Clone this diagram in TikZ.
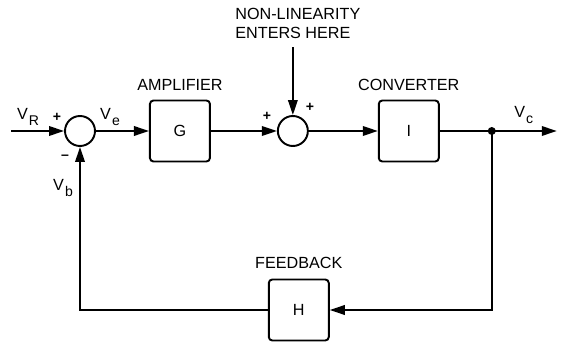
\documentclass[tikz,border=0pt]{standalone}
\usepackage{fontspec}
\setmainfont{Liberation Sans}
\usetikzlibrary{arrows.meta, positioning, calc}
\newcommand{\sigv}[1]{V\kern0.6pt\raisebox{-0.6ex}{\footnotesize #1}}
\tikzset{
  block/.style={rectangle, draw, minimum width=1.2cm, minimum height=1.22cm,
    rounded corners=2pt, line width=1.1pt, font=\fontsize{9.2}{11}\selectfont},
  sumnode/.style={circle, draw, minimum size=0.6cm, inner sep=0pt, line width=1.1pt},
  arrow/.style={-{Triangle[length=3mm, width=1.9mm]}, line width=1.1pt},
  line/.style={line width=1.1pt},
  lbl/.style={font=\fontsize{9.2}{11}\selectfont, inner sep=1pt},
  sign/.style={font=\footnotesize\bfseries, inner sep=0pt}
}
\begin{document}
\begin{tikzpicture}
  \useasboundingbox (0,0) rectangle (11.28,6.84);

  \node[sumnode] (sum1) at (1.6,4.22) {};
  \node[block, right=1.06cm of sum1] (amp) {G};
  \node[sumnode, right=1.32cm of amp] (sum2) {};
  \node[block, right=1.38cm of sum2] (conv) {I};

  \coordinate[left=1.06cm of sum1] (in);
  \coordinate[right=1.04cm of conv] (jn);
  \coordinate[right=1.3cm of jn] (out);
  \coordinate[above=1.36cm of sum2] (nl);
  \coordinate[below=3.58cm of jn] (fb);
  \node[block, left=3.24cm of fb] (fbk) {H};

  % block titles
  \node[lbl, above=0.14cm of amp] (amplbl) {AMPLIFIER};
  \node[lbl, above=0.14cm of conv] (convlbl) {CONVERTER};
  \node[lbl, above=0.16cm of fbk] (fbklbl) {FEEDBACK};
  \node[lbl, align=left, above=0.12cm of nl, xshift=0.1cm] (nllbl)
    {NON-LINEARITY\\ENTERS HERE};

  % signals and signs
  \node[lbl] (vr) at ($(sum1)+(-1.04,0.28)$) {\sigv{R}};
  \node[lbl] (ve) at ($(sum1)+(0.6,0.28)$) {\sigv{e}};
  \node[lbl] (vb) at ($(sum1)+(-0.34,-1.14)$) {\sigv{b}};
  \node[lbl] (vc) at ($(jn)+(0.64,0.32)$) {\sigv{c}};
  \node[sign] (p1) at ($(sum1)+(-0.46,0.28)$) {+};
  \node[sign] (m1) at ($(sum1)+(-0.3,-0.52)$) {--};
  \node[sign] (p2) at ($(sum2)+(-0.52,0.3)$) {+};
  \node[sign] (p3) at ($(sum2)+(0.34,0.48)$) {+};

  % forward path
  \draw[arrow] (in) -- (sum1);
  \draw[arrow] (sum1) -- (amp);
  \draw[arrow] (amp) -- (sum2);
  \draw[arrow] (nl) -- (sum2);
  \draw[arrow] (sum2) -- (conv);
  \draw[line] (conv) -- (jn);
  \draw[arrow] (jn) -- (out);
  \fill (jn) circle (0.08);

  % feedback path
  \draw[arrow] (jn) |- (fbk);
  \draw[arrow] (fbk) -| (sum1);
\end{tikzpicture}
\end{document}
